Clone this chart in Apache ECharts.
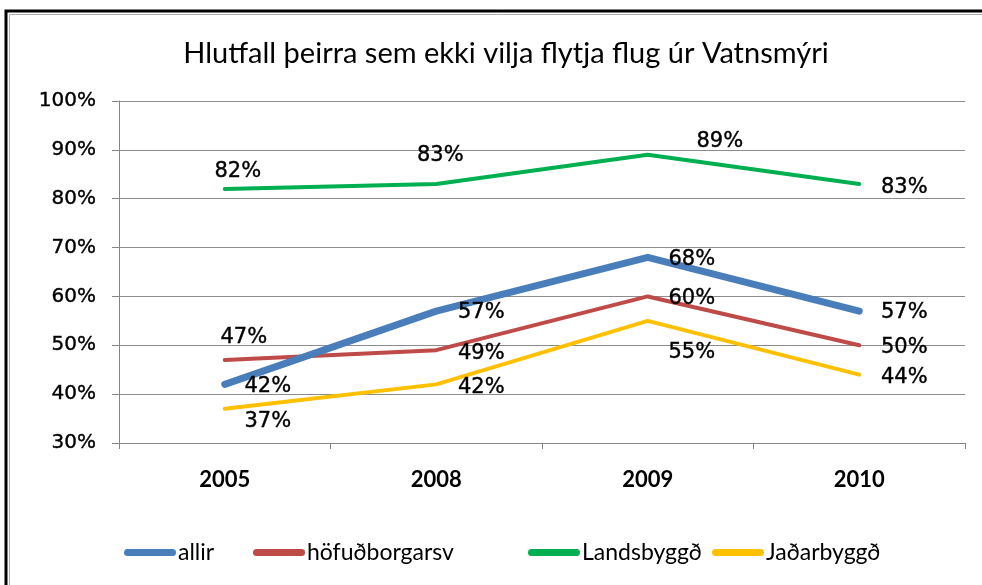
<!DOCTYPE html>
<html>
<head>
<meta charset="utf-8">
<script src="https://cdn.jsdelivr.net/npm/echarts@6/dist/echarts.min.js"></script>
<style>
  html, body { margin: 0; padding: 0; background: #fff; }
  #chart { width: 982px; height: 585px; }
</style>
</head>
<body>
<div id="chart"></div>
<script>
// chart data
const years = ['2005', '2008', '2009', '2010'];
const seriesNames = ['allir', 'höfuðborgarsv', 'Landsbyggð', 'Jaðarbyggð'];
const allir = [42, 57, 68, 57];
const hofudborgarsv = [47, 49, 60, 50];
const landsbyggd = [82, 83, 89, 83];
const jadarbyggd = [37, 42, 55, 44];
const yTicks = [30, 40, 50, 60, 70, 80, 90, 100];

const colors = ['#4A7EBB', '#BE4B48', '#00B050', '#FFC000'];
const widths = [7, 4, 4, 4];

// where each data label sits relative to its point (dx, dy), as in the excel original
const labelOffsets = [
  [[43, 2], [45, 1], [44, 2], [45, 1]],
  [[19, -22], [45, 3], [44, 2], [45, 2]],
  [[13, -17], [4, -29], [72, -13], [45, 3]],
  [[43, 13], [45, 3], [44, 32], [45, 3]]
];
// excel spaces legend entries unevenly, so pin each one
const legendLefts = [124, 253, 528, 712];

const chart = echarts.init(document.getElementById('chart'));

const makeSeries = (name, values, i) => ({
  name: name,
  type: 'line',
  data: values.map((v, j) => ({
    value: v,
    label: { offset: labelOffsets[i][j] }
  })),
  symbol: 'circle',
  symbolSize: 1,
  showSymbol: true,
  lineStyle: { color: colors[i], width: widths[i], cap: 'round', join: 'round' },
  itemStyle: { color: colors[i] },
  label: {
    show: true,
    position: 'inside',
    formatter: '{c}%',
    fontFamily: 'DejaVu Sans',
    fontSize: 21,
    color: '#000',
    textBorderColor: '#000',
    textBorderWidth: 0.4
  },
  emphasis: { disabled: true },
  z: 10 - i
});

const makeLegend = (name, i) => ({
  data: [name],
  left: legendLefts[i],
  top: 541,
  padding: 0,
  itemWidth: 52,
  itemHeight: 7,
  icon: 'path://M3.5,0 H48.5 A3.5,3.5 0 0 1 48.5,7 H3.5 A3.5,3.5 0 0 1 3.5,0 Z',
  textStyle: { fontFamily: 'Lato', fontSize: 23, color: '#000', padding: [0, 0, 0, -3] }
});

const option = {
  animation: false,
  backgroundColor: '#fff',
  title: {
    text: 'Hlutfall þeirra sem ekki vilja flytja flug úr Vatnsmýri',
    left: 501,
    top: 34,
    textAlign: 'center',
    textStyle: { fontFamily: 'Lato', fontSize: 29, fontWeight: 'normal', color: '#000' }
  },
  legend: seriesNames.map(makeLegend),
  grid: { left: 119, right: 17, top: 101, bottom: 142 },
  xAxis: {
    type: 'category',
    data: years,
    boundaryGap: true,
    axisLine: { lineStyle: { color: '#868686', width: 1 } },
    axisTick: { show: true, length: 6, alignWithLabel: false, lineStyle: { color: '#868686' } },
    axisLabel: { fontFamily: 'Lato', fontSize: 22, fontWeight: 'bold', color: '#000', margin: 26 }
  },
  yAxis: {
    type: 'value',
    min: yTicks[0],
    max: yTicks[yTicks.length - 1],
    interval: 10,
    axisLine: { show: true, lineStyle: { color: '#868686', width: 1 } },
    axisTick: { show: true, length: 7, lineStyle: { color: '#868686' } },
    axisLabel: {
      formatter: '{value}%', fontFamily: 'DejaVu Sans', fontSize: 20, color: '#000', margin: 23,
      textBorderColor: '#000', textBorderWidth: 0.4
    },
    splitLine: { lineStyle: { color: '#8c8c8c', width: 1 } }
  },
  graphic: [
    // excel chart frame: only top and left edges are visible
    { type: 'polyline', shape: { points: [[6, 600], [6, 11], [990, 11]] }, style: { stroke: '#000', lineWidth: 3, fill: null } },
    { type: 'polyline', shape: { points: [[9.5, 600], [9.5, 14.5], [990, 14.5]] }, style: { stroke: '#b0b0b0', lineWidth: 1, fill: null } }
  ],
  series: [
    makeSeries(seriesNames[0], allir, 0),
    makeSeries(seriesNames[1], hofudborgarsv, 1),
    makeSeries(seriesNames[2], landsbyggd, 2),
    makeSeries(seriesNames[3], jadarbyggd, 3)
  ]
};

chart.setOption(option);
</script>
</body>
</html>
